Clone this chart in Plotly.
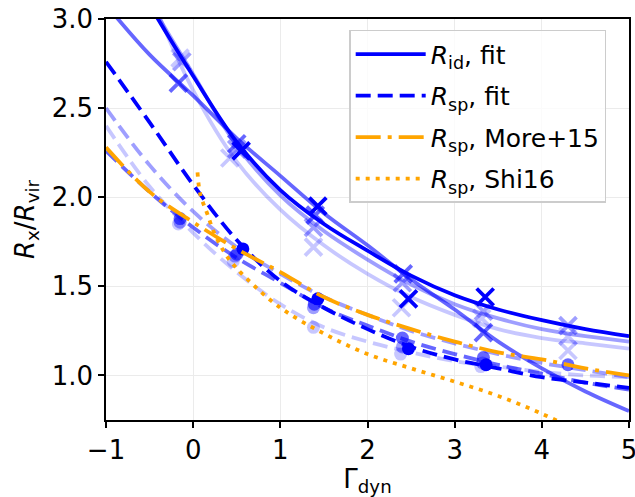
import plotly.graph_objects as go

# ---------------- data ----------------
gx = [-1.0, -0.5, 0.0, 0.5, 1.0, 1.5, 2.0, 2.5, 3.0, 3.5, 4.0, 4.5, 5.0]

# R_id fits (solid), one per bin
rid_fit_1 = [3.52, 3.08, 2.68, 2.31, 2.04, 1.85, 1.70, 1.56, 1.45, 1.37, 1.31, 1.26, 1.22]
rid_fit_2 = [3.08, 2.80, 2.57, 2.33, 2.12, 1.91, 1.73, 1.54, 1.37, 1.19, 1.04, 0.91, 0.80]
rid_fit_3 = [3.60, 3.10, 2.69, 2.29, 2.01, 1.81, 1.65, 1.51, 1.40, 1.32, 1.26, 1.22, 1.19]
rid_fit_4 = [3.85, 3.15, 2.60, 2.20, 1.93, 1.73, 1.57, 1.44, 1.34, 1.26, 1.21, 1.18, 1.15]

# R_sp fits (dashed), one per bin
rsp_fit_1 = [2.76, 2.42, 2.07, 1.76, 1.53, 1.38, 1.26, 1.16, 1.09, 1.04, 0.99, 0.96, 0.93]
rsp_fit_2 = [2.26, 2.03, 1.83, 1.66, 1.52, 1.38, 1.28, 1.19, 1.12, 1.06, 1.01, 0.96, 0.92]
rsp_fit_3 = [2.50, 2.18, 1.92, 1.72, 1.57, 1.44, 1.34, 1.25, 1.18, 1.12, 1.07, 1.03, 0.99]
rsp_fit_4 = [2.40, 2.06, 1.80, 1.58, 1.40, 1.27, 1.19, 1.13, 1.08, 1.05, 1.02, 1.00, 0.99]

# literature models
more15_y = [2.28, 2.03, 1.86, 1.71, 1.58, 1.44, 1.34, 1.26, 1.19, 1.13, 1.09, 1.04, 1.00]
shi16_x = [0.05, 0.08, 0.16, 0.25, 0.40, 0.60, 1.0, 1.5, 2.0, 2.5, 3.0, 3.5, 4.0, 4.5]
shi16_y = [2.14, 2.02, 1.91, 1.79, 1.66, 1.55, 1.38, 1.235, 1.12, 1.04, 0.965, 0.885, 0.785, 0.67]

# R_id measurements (crosses)
rid_x_1 = [0.55, 1.43, 2.47, 3.35]
rid_y_1 = [2.26, 1.95, 1.43, 1.44]
rid_x_2 = [-0.17, 0.50, 1.40, 2.41, 3.33]
rid_y_2 = [2.64, 2.30, 1.90, 1.57, 1.24]
rid_x_3 = [-0.13, 0.50, 1.38, 2.40, 3.33, 4.30]
rid_y_3 = [2.76, 2.27, 1.83, 1.52, 1.36, 1.28]
rid_x_4 = [-0.15, 0.42, 1.38, 2.39, 3.31, 4.30, 4.30]
rid_y_4 = [2.78, 2.22, 1.72, 1.38, 1.32, 1.22, 1.14]

# R_sp measurements (circles)
rsp_x_1 = [0.57, 1.43, 2.47, 3.36]
rsp_y_1 = [1.71, 1.43, 1.15, 1.06]
rsp_x_2 = [-0.15, 0.50, 1.39, 2.40, 3.33, 4.30]
rsp_y_2 = [1.88, 1.68, 1.40, 1.21, 1.10, 1.06]
rsp_x_3 = [-0.15, 0.48, 1.38, 2.40, 3.32]
rsp_y_3 = [1.86, 1.67, 1.38, 1.16, 1.07]
rsp_x_4 = [-0.17, 0.46, 1.38, 2.38, 3.30]
rsp_y_4 = [1.85, 1.64, 1.27, 1.12, 1.05]

bin_alpha = [1.0, 0.6, 0.38, 0.22]

x_ticks = [-1, 0, 1, 2, 3, 4, 5]
y_ticks = [1.0, 1.5, 2.0, 2.5, 3.0]

# ---------------- figure ----------------
FONT = "DejaVu Sans"
LW = 3.8
DASH = "15px,7px"
DASHDOT = "25px,7px,4px,7px"
DOT = "4px,6px"


def blue(a):
    return f"rgba(0,0,255,{a})"


ORANGE = "#ffa500"

fig = go.Figure()

rid_fits = [rid_fit_1, rid_fit_2, rid_fit_3, rid_fit_4]
rsp_fits = [rsp_fit_1, rsp_fit_2, rsp_fit_3, rsp_fit_4]
rid_pts = [(rid_x_1, rid_y_1), (rid_x_2, rid_y_2), (rid_x_3, rid_y_3), (rid_x_4, rid_y_4)]
rsp_pts = [(rsp_x_1, rsp_y_1), (rsp_x_2, rsp_y_2), (rsp_x_3, rsp_y_3), (rsp_x_4, rsp_y_4)]

# draw lightest bins first
for i in reversed(range(4)):
    a = bin_alpha[i]
    first = i == 0
    fig.add_trace(go.Scatter(
        x=gx, y=rsp_fits[i], mode="lines", line=dict(color=blue(a), width=LW, dash=DASH, shape="spline"),
        name="<i>R</i><sub>sp</sub>, fit", showlegend=first, legendrank=2, legendgroup="g2",
        hoverinfo="skip"))
    fig.add_trace(go.Scatter(
        x=gx, y=rid_fits[i], mode="lines", line=dict(color=blue(a), width=LW, shape="spline"),
        name="<i>R</i><sub>id</sub>, fit", showlegend=first, legendrank=1, legendgroup="g1",
        hoverinfo="skip"))
    fig.add_trace(go.Scatter(
        x=rsp_pts[i][0], y=rsp_pts[i][1], mode="markers",
        marker=dict(symbol="circle", size=13, color=blue(a), line=dict(width=0)),
        showlegend=False, hoverinfo="skip"))
    fig.add_trace(go.Scatter(
        x=rid_pts[i][0], y=rid_pts[i][1], mode="markers",
        marker=dict(symbol="x-thin", size=17, color=blue(a), line=dict(width=3.8, color=blue(a))),
        showlegend=False, hoverinfo="skip"))

fig.add_trace(go.Scatter(
    x=gx, y=more15_y, mode="lines", line=dict(color=ORANGE, width=LW, dash=DASHDOT, shape="spline"),
    name="<i>R</i><sub>sp</sub>, More+15", legendrank=3, legendgroup="g3", hoverinfo="skip"))
fig.add_trace(go.Scatter(
    x=shi16_x, y=shi16_y, mode="lines", line=dict(color=ORANGE, width=LW, dash=DOT, shape="spline"),
    name="<i>R</i><sub>sp</sub>, Shi16", legendrank=4, legendgroup="g4", hoverinfo="skip"))

axis_common = dict(
    showline=True, linecolor="black", linewidth=1.5, mirror=True,
    ticks="outside", ticklen=6, tickwidth=1.5, tickcolor="black",
    showgrid=True, gridcolor="#ebebeb", gridwidth=1, zeroline=False,
    tickfont=dict(family=FONT, size=26, color="black"),
    automargin=False, ticklabeloverflow="allow",
)

fig.update_layout(
    width=635, height=497,
    margin=dict(l=106, r=6, t=19, b=77),
    paper_bgcolor="white", plot_bgcolor="white",
    font=dict(family=FONT, size=26, color="black"),
    showlegend=True,
    legend=dict(
        x=0.465, y=0.973, xanchor="left", yanchor="top",
        bgcolor="rgba(255,255,255,0.8)", bordercolor="#cccccc", borderwidth=1.5,
        font=dict(family=FONT, size=25, color="black"),
        tracegroupgap=6, itemwidth=70,
    ),
    xaxis=dict(range=[-1, 5], tickvals=x_ticks, ticktext=[("\u2212" + str(-t)) if t < 0 else str(t) for t in x_ticks],
               title=dict(text="\u0393<sub>dyn</sub>", font=dict(family=FONT, size=26), standoff=6),
               **axis_common),
    yaxis=dict(range=[0.75, 3.0], tickvals=y_ticks, ticktext=[f"{t:.1f}" for t in y_ticks],
               title=dict(text="<i>R</i><sub>x</sub>/<i>R</i><sub>vir</sub>", font=dict(family=FONT, size=26), standoff=10),
               **axis_common),
)

fig.write_html("out.html", config={"displayModeBar": False},
               post_script="document.body.style.margin='0';document.body.style.overflow='hidden';")
